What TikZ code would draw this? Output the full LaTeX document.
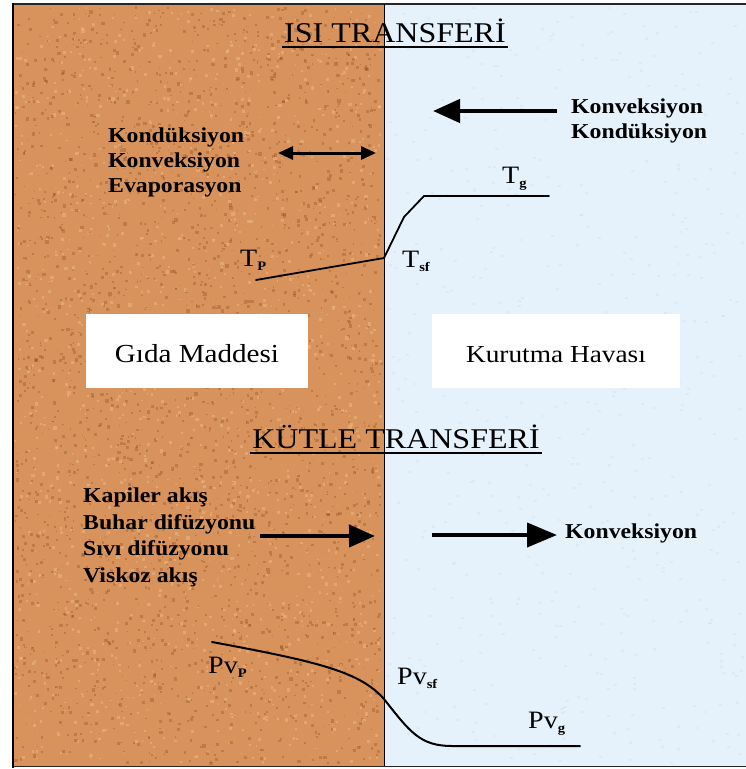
\documentclass[tikz,border=0pt]{standalone}
\usepackage{fontspec}
\setmainfont{Liberation Serif}[FakeStretch=1.12]
\usetikzlibrary{arrows.meta}

\definecolor{cork}{HTML}{D8925B}
\definecolor{corkdark}{HTML}{7E4018}
\definecolor{corklight}{HTML}{F2C595}
\definecolor{air}{HTML}{E5F1FB}
\definecolor{airdot}{HTML}{C9DDEE}

\newcommand{\sbx}[1]{\raisebox{-0.35ex}{\fontsize{13}{13}\selectfont\bfseries #1}}

\tikzset{
  heading/.style={inner sep=0pt, anchor=base, font=\fontsize{28.6}{30}\selectfont},
  mech/.style={inner sep=0pt, anchor=base west, align=left,
               font=\fontsize{21.2}{25}\selectfont\bfseries},
  qty/.style={inner sep=0pt, anchor=base west, font=\fontsize{25}{27}\selectfont},
  regionbox/.style={fill=white, draw=none},
  profile/.style={line width=1.8pt, line join=round, line cap=round},
  bigarrow/.style={line width=4.5pt, -{Triangle[length=27pt,width=23pt]}},
  midarrow/.style={line width=4pt, -{Triangle[length=26pt,width=22pt]}},
  twoway/.style={line width=3pt, {Triangle[length=15pt,width=13pt]}-{Triangle[length=15pt,width=13pt]}}
}

\begin{document}
\begin{tikzpicture}[x=1pt,y=-1pt]
\useasboundingbox (0,0) rectangle (746,769);

% food and air regions
\fill[cork] (13,4) rectangle (384,766);
\fill[air] (384,4) rectangle (746,766);

% cork grain
\pgfmathsetseed{11}
\foreach \i in {1,...,2600}{
  \pgfmathsetmacro\xx{14+rnd*366}
  \pgfmathsetmacro\yy{6+rnd*756}
  \pgfmathsetmacro\ss{1+rnd*2.5}
  \fill[corkdark, opacity=0.28] (\xx,\yy) rectangle ++(\ss,\ss);
}
\foreach \i in {1,...,1400}{
  \pgfmathsetmacro\xx{14+rnd*366}
  \pgfmathsetmacro\yy{6+rnd*756}
  \pgfmathsetmacro\ss{1+rnd*2.5}
  \fill[corklight, opacity=0.4] (\xx,\yy) rectangle ++(\ss,\ss);
}
% faint grain of the air side
\foreach \i in {1,...,500}{
  \pgfmathsetmacro\xx{386+rnd*358}
  \pgfmathsetmacro\yy{6+rnd*756}
  \fill[airdot, opacity=0.35] (\xx,\yy) rectangle ++(3,2);
}

% frame and interface
\draw[line width=2pt, black!85] (12,4) -- (746,4);
\draw[line width=1.5pt, black!85] (12,766.5) -- (746,766.5);
\draw[line width=2.6pt] (13,3) -- (13,768);
\draw[line width=1.2pt] (384.5,4) -- (384.5,766);

% region labels
\node[regionbox, minimum width=222pt, minimum height=74pt] (foodbox) at (197,351) {};
\node[font=\fontsize{26}{28}\selectfont, inner sep=0pt, anchor=base] (food) at (197,362) {Gıda Maddesi};
\node[regionbox, minimum width=248pt, minimum height=74pt] (airbox) at (556,351) {};
\node[font=\fontsize{24.4}{28}\selectfont, inner sep=0pt, anchor=base] (air) at (556,362) {Kurutma Havası};

% heat transfer
\node[heading] (isi) at (395,42) {ISI TRANSFERİ};
\draw[line width=1.3pt] ([xshift=-2pt,yshift=-5pt]isi.base west) -- ([xshift=2pt,yshift=-5pt]isi.base east);

\node[mech] (airheat) at (571,138) {Konveksiyon\\Kondüksiyon};
\coordinate (ah1) at (557,111);
\coordinate (ah2) at (433,111);
\draw[bigarrow] (ah1) -- (ah2);

\node[mech] (foodheat) at (108,192) {Kondüksiyon\\Konveksiyon\\Evaporasyon};
\coordinate (fh1) at (278,153);
\coordinate (fh2) at (376,153);
\draw[twoway] (fh1) -- (fh2);

% temperature profile
\coordinate (tp) at (256,280);
\coordinate (tsf) at (384,258);
\coordinate (tk) at (404,217);
\coordinate (tg0) at (424,196);
\coordinate (tg) at (549,196);
\draw[profile] (tp) -- (tsf) -- (tk) -- (tg0) -- (tg);
\node[qty] (Tg) at (502,183) {T\sbx{g}};
\node[qty] (Tp) at (240,266) {T\sbx{P}};
\node[qty] (Tsf) at (402,267) {T\sbx{sf}};

% mass transfer
\node[heading] (kutle) at (396,448) {KÜTLE TRANSFERİ};
\draw[line width=1.3pt] ([xshift=-2pt,yshift=-5pt]kutle.base west) -- ([xshift=2pt,yshift=-5pt]kutle.base east);

\node[mech, font=\fontsize{21.2}{26.5}\selectfont\bfseries] (foodmass) at (83,582)
  {Kapiler akış\\Buhar difüzyonu\\Sıvı difüzyonu\\Viskoz akış};
\coordinate (fm1) at (260,536);
\coordinate (fm2) at (375,536);
\draw[midarrow] (fm1) -- (fm2);

\coordinate (am1) at (432,535);
\coordinate (am2) at (557,535);
\draw[midarrow, -{Triangle[length=30pt,width=24pt]}] (am1) -- (am2);
\node[mech] (airmass) at (565,538) {Konveksiyon};

% vapour pressure profile
\coordinate (pvp) at (212,642);
\coordinate (pvsf) at (384,699);
\coordinate (pvg0) at (452,746);
\coordinate (pvg) at (580,746);
\draw[profile, line width=2pt] (pvp) .. controls (320,662) and (360,672) .. (pvsf)
  .. controls (410,732) and (420,746) .. (pvg0) -- (pvg);
\node[qty] (Pvp) at (208,673) {Pv\sbx{P}};
\node[qty] (Pvsf) at (397,684) {Pv\sbx{sf}};
\node[qty] (Pvg) at (528,728) {Pv\sbx{g}};
\end{tikzpicture}
\end{document}
